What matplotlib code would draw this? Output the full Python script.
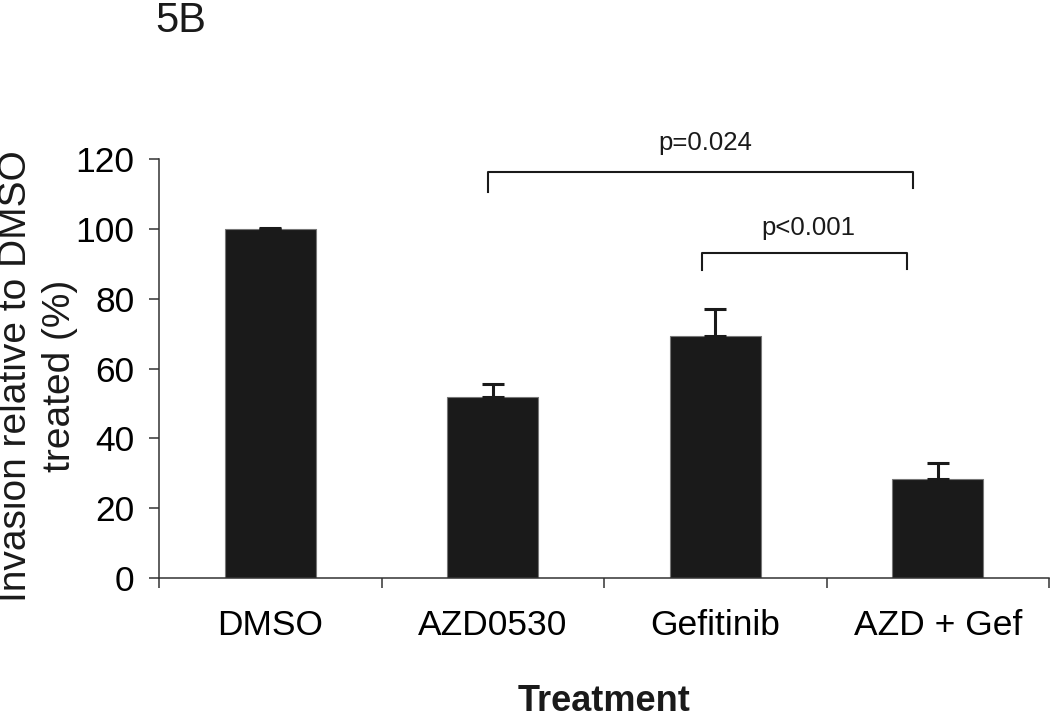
import matplotlib.pyplot as plt
import matplotlib as mpl
import numpy as np

mpl.rcParams['font.family'] = ['Liberation Sans', 'DejaVu Sans']

# data
treatments = ["DMSO", "AZD0530", "Gefitinib", "AZD + Gef"]
invasion = [99.9, 51.9, 69.3, 28.3]
errors = [0.4, 3.6, 7.8, 4.6]

# significance brackets: (x start, x end, y, leg bottom left, leg bottom right, label, label y)
brackets = [
    (0.98, 2.89, 116.3, 110.6, 111.8, "p=0.024", 124.6),
    (1.94, 2.86, 93.1, 88.2, 88.6, "p<0.001", 100.3),
]

fig = plt.figure(figsize=(10.5, 7.19), dpi=100)
ax = fig.add_axes([159 / 1050, 1 - 578 / 719, 890 / 1050, 419 / 719])

x = np.arange(len(treatments))
ax.bar(x, invasion, width=0.41, color='#1a1a1a', edgecolor='#777777', linewidth=0.8)
ax.errorbar(x, invasion, yerr=[np.zeros(len(errors)), errors], fmt='none',
            ecolor='#1a1a1a', elinewidth=2.2, capsize=8, capthick=2.2)

ax.set_xlim(-0.5, 3.5)
ax.set_ylim(0, 120)
ax.set_yticks(np.arange(0, 121, 20))

# category labels in the middle, tick marks between them
ax.set_xticks(x)
ax.set_xticklabels(treatments)
ax.set_xticks(np.arange(-0.5, 3.6, 1), minor=True)
ax.tick_params(axis='x', which='major', length=0, pad=22, labelsize=25.5)
ax.tick_params(axis='x', which='minor', length=7.5, width=1.1, color='#333333')
ax.tick_params(axis='y', length=7.5, width=1.1, color='#333333', pad=10, labelsize=25.5)

for s in ['top', 'right']:
    ax.spines[s].set_visible(False)
for s in ['left', 'bottom']:
    ax.spines[s].set_linewidth(1.1)
    ax.spines[s].set_color('#333333')

for x0, x1, y, yl, yr, lab, ly in brackets:
    ax.plot([x0, x0, x1, x1], [yl, y, y, yr], color='#1a1a1a', lw=1.5, clip_on=False)
    ax.text((x0 + x1) / 2 + 0.02, ly, lab,
            ha='center', va='center', fontsize=18.5, color='#1a1a1a')

fig.text(38 / 1050, 1 - 376 / 719, "Invasion relative to DMSO\ntreated (%)",
         rotation=90, ha='center', va='center', multialignment='center',
         fontsize=28, linespacing=1.25, color='#1a1a1a')
fig.text(155 / 1050, 1 - 1 / 719, "5B", ha='left', va='top', fontsize=30, color='#1a1a1a')
fig.text(604 / 1050, 1 - 711 / 719, "Treatment", ha='center', va='baseline',
         fontsize=26, fontweight='bold', color='#1a1a1a')

fig.savefig('out.png', dpi=100)
